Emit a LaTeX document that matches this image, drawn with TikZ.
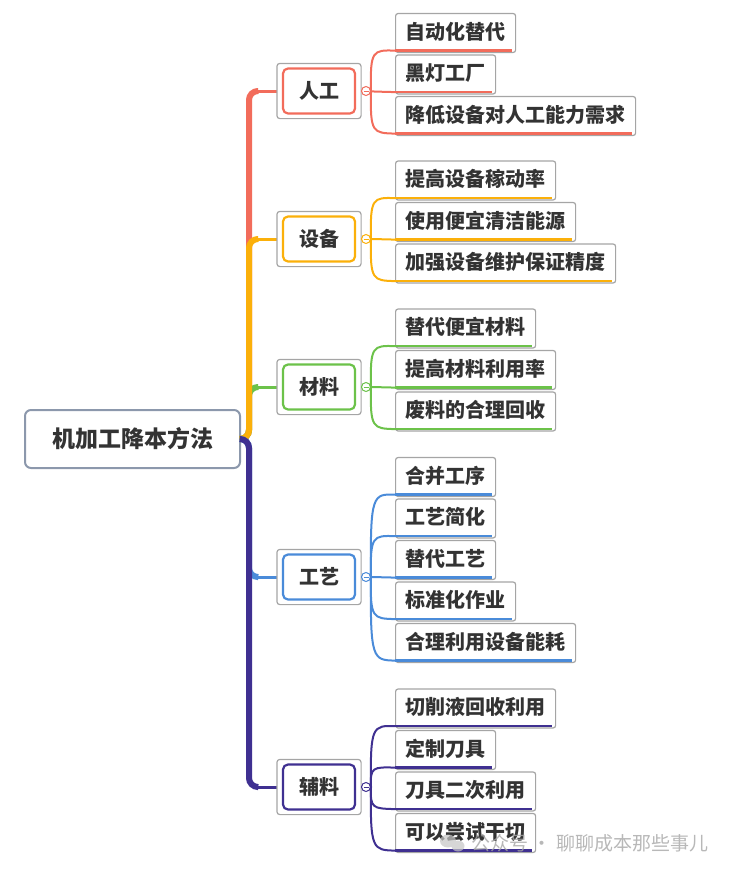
\documentclass[tikz,border=0pt]{standalone}
\usepackage{fontspec}
\setmainfont{Noto Sans CJK SC}
\usetikzlibrary{positioning,calc}
\definecolor{ink}{RGB}{51,51,51}
\definecolor{selgray}{RGB}{165,165,165}
\definecolor{rootline}{RGB}{140,152,172}
\definecolor{red1}{RGB}{242,108,91}
\definecolor{orange1}{RGB}{251,176,10}
\definecolor{green1}{RGB}{108,194,74}
\definecolor{blue1}{RGB}{74,139,217}
\definecolor{purple1}{RGB}{63,48,145}

\begin{document}
\begin{tikzpicture}[x=1pt,y=-1pt,every node/.style={text=ink,font=\bfseries\fontsize{20}{24}\selectfont}]
\tikzstyle{leaf}=[draw=selgray,line width=1.2pt,rounded corners=2.5pt,anchor=west,inner xsep=10pt,inner ysep=0pt,minimum height=39pt,text height=16pt,text depth=4pt,fill=white]
\tikzstyle{topic}=[line width=2.2pt,rounded corners=5pt,minimum width=72pt,minimum height=45pt,fill=white]
\tikzstyle{knob}=[circle,draw,line width=1pt,fill=white,minimum size=9pt,inner sep=0pt]
\tikzstyle{wire}=[line width=2pt]
\useasboundingbox (0,0) rectangle (738,873);
\node[draw=rootline,line width=2pt,rounded corners=6pt,minimum width=215pt,minimum height=58pt,font=\bfseries\fontsize{23}{27}\selectfont] (r) at (132.5,439) {机加工降本方法};
\node[topic,draw=red1] (rg) at (319,91) {人工};
\node[topic,draw=orange1] (sb) at (319,239) {设备};
\node[topic,draw=green1] (cl) at (319,387) {材料};
\node[topic,draw=blue1] (gy) at (319,577) {工艺};
\node[topic,draw=purple1] (fl) at (319,787) {辅料};
% trunk and branch stubs
\foreach \b/\c/\y in {rg/red1/91,cl/green1/387,sb/orange1/239,gy/blue1/577,fl/purple1/787}{
  \draw[\c,line width=6pt,rounded corners=9pt] (r.east) -- (249,439) |- (257,\y);
  \draw[\c,line width=3pt] (255,\y) -- ([xshift=-5pt]\b.west);
  \draw[selgray,line width=1.2pt,rounded corners=3pt] ([shift={(-5pt,-4pt)}]\b.south west) rectangle ([shift={(5pt,4pt)}]\b.north east);
  \node[knob,draw=\c] (k\b) at (366,\y) {};
  \draw[\c,wire] ([xshift=5pt]\b.east) -- (k\b.west);
  \draw[\c,line width=0.8pt] ([xshift=-2.5pt]k\b.center) -- ([xshift=2.5pt]k\b.center);
}
% leaves
\foreach \t/\y [count=\i] in {自动化替代/33,黑灯工厂/74.5,降低设备对人工能力需求/116}{
  \node[leaf] (rg\i) at (395,\y) {\t};
  \draw[red1,line width=2.6pt] ([yshift=2.5pt]rg\i.south west) -- ([xshift=-4pt,yshift=2.5pt]rg\i.south east);
  \draw[red1,wire] (krg.east) .. controls (370,\y+17) and (373,\y+17) .. ([yshift=2.5pt]rg\i.south west);
}
\foreach \t/\y [count=\i] in {提高设备稼动率/180.5,使用便宜清洁能源/222,加强设备维护保证精度/263.5}{
  \node[leaf] (sb\i) at (395,\y) {\t};
  \draw[orange1,line width=2.6pt] ([yshift=2.5pt]sb\i.south west) -- ([xshift=-4pt,yshift=2.5pt]sb\i.south east);
  \draw[orange1,wire] (ksb.east) .. controls (370,\y+17) and (373,\y+17) .. ([yshift=2.5pt]sb\i.south west);
}
\foreach \t/\y [count=\i] in {替代便宜材料/328.5,提高材料利用率/370,废料的合理回收/411.5}{
  \node[leaf] (cl\i) at (395,\y) {\t};
  \draw[green1,line width=2.6pt] ([yshift=2.5pt]cl\i.south west) -- ([xshift=-4pt,yshift=2.5pt]cl\i.south east);
  \draw[green1,wire] (kcl.east) .. controls (370,\y+17) and (373,\y+17) .. ([yshift=2.5pt]cl\i.south west);
}
\foreach \t/\y [count=\i] in {合并工序/477,工艺简化/518.5,替代工艺/560,标准化作业/601.5,合理利用设备能耗/643}{
  \node[leaf] (gy\i) at (395,\y) {\t};
  \draw[blue1,line width=2.6pt] ([yshift=2.5pt]gy\i.south west) -- ([xshift=-4pt,yshift=2.5pt]gy\i.south east);
  \draw[blue1,wire] (kgy.east) .. controls (370,\y+17) and (373,\y+17) .. ([yshift=2.5pt]gy\i.south west);
}
\foreach \t/\y [count=\i] in {切削液回收利用/708.5,定制刀具/750,刀具二次利用/791.5,可以尝试干切/833}{
  \node[leaf] (fl\i) at (395,\y) {\t};
  \draw[purple1,line width=2.6pt] ([yshift=2.5pt]fl\i.south west) -- ([xshift=-4pt,yshift=2.5pt]fl\i.south east);
  \draw[purple1,wire] (kfl.east) .. controls (370,\y+17) and (373,\y+17) .. ([yshift=2.5pt]fl\i.south west);
}
% watermark
\fill[gray!45,opacity=0.7] (448,841) ellipse (8pt and 6.5pt) (458,846) ellipse (6.5pt and 5.5pt);
\node[text=gray!70,opacity=0.8,font=\fontsize{19}{22}\selectfont,anchor=west] (wm) at (468,843) {公众号 · 聊聊成本那些事儿};
\end{tikzpicture}
\end{document}
